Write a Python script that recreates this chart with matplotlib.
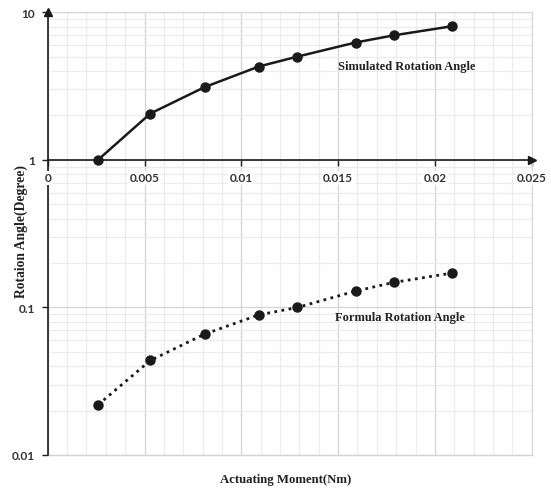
import numpy as np
import matplotlib
matplotlib.use("Agg")
import matplotlib.pyplot as plt
from matplotlib.ticker import MultipleLocator, LogLocator, NullFormatter

# data
moment = [0.0026, 0.0053, 0.0081, 0.0109, 0.0129, 0.0159, 0.0179, 0.0209]
simulated = [1.0, 2.06, 3.11, 4.29, 5.01, 6.24, 6.99, 8.05]
formula = [0.0219, 0.0437, 0.0659, 0.089, 0.100, 0.129, 0.148, 0.171]

x_ticks = [0, 0.005, 0.01, 0.015, 0.02, 0.025]
x_tick_labels = ["0", "0.005", "0.01", "0.015", "0.02", "0.025"]
y_ticks = [0.01, 0.1, 1, 10]
y_tick_labels = ["0.01", "0.1", "1", "10"]

serif = dict(family="Liberation Serif", weight="bold", color="#222222")
tickfont = dict(family="Lato", weight="bold", size=8.5, color="#333333")

fig = plt.figure(figsize=(5.51, 4.89), dpi=100)
ax = fig.add_axes([0.0866, 0.0675, 0.965 - 0.0866, 0.9728 - 0.0675])

ax.set_yscale("log")
ax.set_xlim(0, 0.025)
ax.set_ylim(0.01, 10)

# grid
ax.xaxis.set_minor_locator(MultipleLocator(0.001))
ax.yaxis.set_minor_locator(LogLocator(base=10, subs=np.arange(2, 10)))
ax.yaxis.set_minor_formatter(NullFormatter())
ax.grid(which="major", color="#d4d4d4", lw=0.9)
ax.grid(which="minor", color="#ececec", lw=0.9)
ax.set_axisbelow(True)

# data series
ax.plot(moment, simulated, color="#1a1a1a", lw=1.8, marker="o", ms=6.5, zorder=3)
ax.plot(moment, formula, color="#1a1a1a", lw=2.0, ls=(0, (1, 1.6)), marker="o", ms=6.5, zorder=3)

# axes styling
ax.spines["left"].set_color("#1a1a1a")
ax.spines["left"].set_linewidth(1.2)
ax.spines["bottom"].set_position(("data", 1))
ax.spines["bottom"].set_color("#1a1a1a")
ax.spines["bottom"].set_linewidth(1.2)
for s in ["top", "right"]:
    ax.spines[s].set_color("#d4d4d4")
ax.plot([0, 1], [0, 0], color="#d4d4d4", lw=1, transform=ax.transAxes, clip_on=False)

ax.set_xticks(x_ticks)
ax.set_xticklabels([])
ax.set_yticks(y_ticks)
ax.set_yticklabels(y_tick_labels, fontdict=tickfont)
ax.tick_params(axis="x", which="major", direction="out", length=4, width=1, color="#1a1a1a")
ax.tick_params(axis="y", which="major", direction="out", length=4, width=1, color="#1a1a1a", pad=5)
ax.tick_params(which="minor", length=0)

# x tick labels sit just under the axis line at y=1, over a white patch
for xv, lab in zip(x_ticks, x_tick_labels):
    ax.annotate(lab, xy=(xv, 1), xytext=(0, -9), textcoords="offset points",
                ha="center", va="top", zorder=5, annotation_clip=False,
                bbox=dict(facecolor="white", edgecolor="none", pad=1), **tickfont)

# arrow heads
ax.plot(1, 1, marker=">", color="#1a1a1a", ms=6, transform=ax.get_yaxis_transform(), clip_on=False, zorder=4)
ax.plot(0, 1, marker="^", color="#1a1a1a", ms=6, transform=ax.transAxes, clip_on=False, zorder=4)

# annotations
ax.text(0.01854, 4.3, "Simulated Rotation Angle", ha="center", va="center", size=9, **serif)
ax.text(0.0182, 0.0859, "Formula Rotation Angle", ha="center", va="center", size=9, **serif)
fig.text(286 / 551, 1 - 480 / 489, "Actuating Moment(Nm)", ha="center", va="center", size=9.2, **serif)
fig.text(21 / 551, 1 - 232 / 489, "Rotaion Angle(Degree)", ha="center", va="center", rotation=90,
         size=9.8, **serif)

fig.savefig("out.png", dpi=100)
